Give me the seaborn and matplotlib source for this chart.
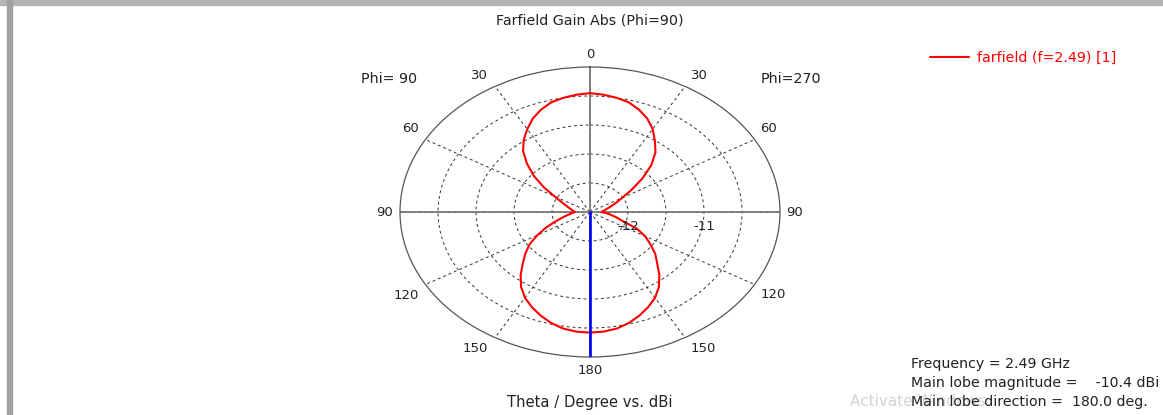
import numpy as np
import matplotlib
matplotlib.use("Agg")
import matplotlib.pyplot as plt
import seaborn as sns
from matplotlib.patches import Rectangle

# farfield cut, theta in degrees, gain in dBi
theta_deg = list(range(0, 185, 5))
gain_phi270 = [-10.45, -10.47, -10.50, -10.54, -10.62, -10.72, -10.85, -11.01, -11.16,
               -11.36, -11.60, -11.83, -12.01, -12.12, -12.20, -12.26, -12.30, -12.33,
               -12.35, -12.29, -12.22, -12.14, -12.04, -11.82, -11.66, -11.53, -11.38,
               -11.25, -11.08, -10.92, -10.79, -10.69, -10.60, -10.52, -10.46, -10.43, -10.42]
gain_phi90 = [-10.45, -10.47, -10.50, -10.54, -10.62, -10.72, -10.85, -10.98, -11.13,
              -11.33, -11.54, -11.76, -11.96, -12.08, -12.16, -12.21, -12.25, -12.28,
              -12.30, -12.26, -12.20, -12.12, -12.01, -11.86, -11.70, -11.53, -11.39,
              -11.25, -11.08, -10.92, -10.79, -10.69, -10.60, -10.52, -10.46, -10.43, -10.42]

r_min, r_max = -12.5, -10.0
r_ticks = [-12.0, -11.5, -11.0, -10.5]
r_tick_labels = {-12.0: "-12", -11.0: "-11"}
angle_ticks = list(range(0, 360, 30))
angle_labels = ["0", "30", "60", "90", "120", "150", "180", "150", "120", "90", "60", "30"]

freq = 2.49
main_lobe_mag = -10.4
main_lobe_dir = 180.0
series_label = "farfield (f=2.49) [1]"

sns.set_style("white")
plt.rcParams["font.family"] = ["DejaVu Sans"]
txt = "#222222"
fs = 10.3

W, H = 1163, 415
fig = plt.figure(figsize=(W / 100, H / 100), dpi=100)


def fx(px):
    return px / W


def fy(py):
    return 1 - py / H


# window frame
fig.patches.append(Rectangle((0, fy(5)), 1, 5 / H, transform=fig.transFigure,
                             color="#b4b4b4", zorder=0))
fig.patches.append(Rectangle((fx(7), 0), 5 / W, 1, transform=fig.transFigure,
                             color="#a0a0a0", zorder=0))

ax = fig.add_axes([fx(400), fy(357), fx(380), 290 / H], projection="polar")
ax.set_theta_zero_location("N")
ax.set_theta_direction(-1)
ax.set_rlim(r_min, r_max)
ax.set_aspect("auto")

# join both halves: phi=270 on the right, phi=90 on the left
ang = np.deg2rad(theta_deg + [360 - t for t in theta_deg[::-1][1:]])
gain = gain_phi270 + gain_phi90[::-1][1:]

ax.set_thetagrids(angle_ticks, [""] * len(angle_ticks))
ax.set_rgrids(r_ticks, labels=[""] * len(r_ticks))
ax.grid(True, linestyle=(0, (3, 3)), color="#333333", linewidth=0.7)
ax.spines["polar"].set_color("#555555")
ax.spines["polar"].set_linewidth(0.9)

# theta labels just outside the rim
for a, lab in zip(angle_ticks, angle_labels):
    c = np.cos(np.deg2rad(a))
    if a in (0, 180):
        ha, dx, dy = "center", 0, 13 * np.sign(c)
    else:
        ha = "left" if a < 180 else "right"
        dx = 6 if a < 180 else -7
        dy = 0 if abs(c) < 0.1 else 10.5 * np.sign(c)
    ax.annotate(lab, xy=(np.deg2rad(a), r_max), xytext=(dx, dy), textcoords="offset pixels",
                ha=ha, va="center", fontsize=9.5, color=txt, annotation_clip=False)

for a in [0, 90, 180, 270]:
    ax.axvline(np.deg2rad(a), color="#7a7a7a", linewidth=1.3, zorder=2)

sns.lineplot(x=ang, y=gain, sort=False, estimator=None, color="red", linewidth=1.5,
             ax=ax, label=series_label, zorder=3)
ax.axvline(np.deg2rad(main_lobe_dir), color="#0000ff", linewidth=1.9, zorder=4)

for r, lab in r_tick_labels.items():
    ax.annotate(lab, xy=(np.pi / 2, r), xytext=(0, -14), textcoords="offset pixels",
                ha="center", va="center", fontsize=9.5, color=txt)

ax.legend(loc="center left", bbox_to_anchor=(fx(930), fy(58)), bbox_transform=fig.transFigure,
          frameon=False, labelcolor="red", fontsize=fs, handlelength=2.7, handletextpad=0.6,
          borderaxespad=0, borderpad=0)

fig.text(fx(590), fy(20), "Farfield Gain Abs (Phi=90)", ha="center", va="center", fontsize=fs, color=txt)
fig.text(fx(389), fy(79), "Phi= 90", ha="center", va="center", fontsize=fs, color=txt)
fig.text(fx(791), fy(79), "Phi=270", ha="center", va="center", fontsize=fs, color=txt)
fig.text(fx(590), fy(402), "Theta / Degree vs. dBi", ha="center", va="center", fontsize=10.6, color=txt)

fig.text(fx(850), fy(401), "Activate Windows", ha="left", va="center", fontsize=11,
         color="#d4d4d4", zorder=0)
info = [f"Frequency = {freq} GHz",
        f"Main lobe magnitude =    {main_lobe_mag} dBi",
        f"Main lobe direction =  {main_lobe_dir:.1f} deg."]
for i, line in enumerate(info):
    fig.text(fx(911), fy(364 + 19 * i), line, ha="left", va="center", fontsize=10.2, color=txt)

fig.savefig("out.png", dpi=100)
